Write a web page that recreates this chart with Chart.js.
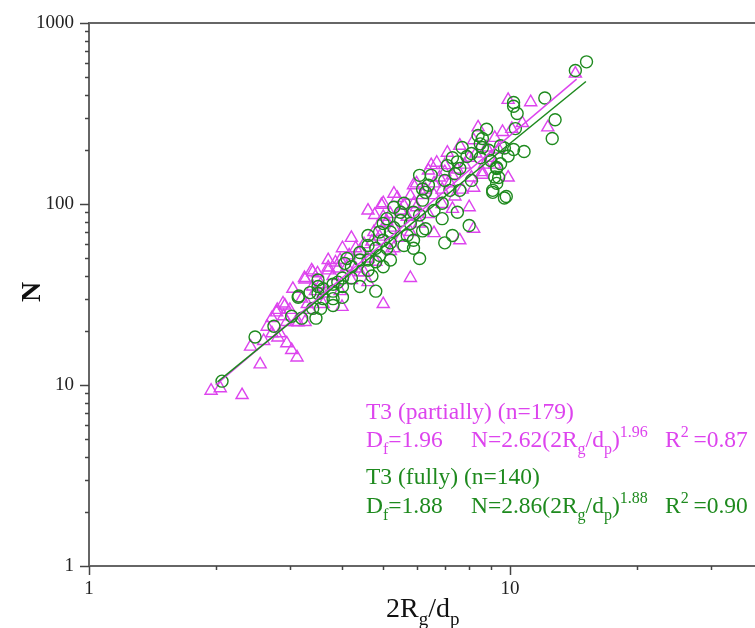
<!DOCTYPE html>
<html>
<head>
<meta charset="utf-8">
<script src="https://cdn.jsdelivr.net/npm/chart.js@4.4.0/dist/chart.umd.min.js"></script>
<style>
  html, body { margin: 0; padding: 0; background: #fff; }
</style>
</head>
<body>
<canvas id="chart" width="755" height="628"></canvas>
<script>
// Daten: T3 teilweise (Dreiecke) und T3 vollständig (Kreise), [2Rg/dp, N]
const partialPoints = [
  [1.95, 9.3], [2.05, 9.6], [2.31, 8.8], [2.55, 13.0], [2.42, 16.3], [2.81, 18.3], [2.95, 17.0],
  [3.03, 15.6], [3.12, 14.2], [2.84, 19.3], [2.72, 19.3], [2.79, 25.2], [2.92, 27.5], [3.14, 22.2],
  [3.26, 38.3], [3.49, 41.4], [2.89, 28.2], [2.80, 26], [2.72, 23.4], [3.10, 22.3], [3.26, 22.3],
  [2.95, 22.3], [3.99, 27], [3.70, 44.6], [3.85, 47.5], [3.25, 39], [3.40, 42], [3.70, 43],
  [3.70, 49], [3.95, 49], [4.00, 57], [4.30, 57], [4.20, 65], [4.60, 92], [5.00, 101], [5.40, 108],
  [6.00, 130], [4.50, 42], [4.60, 50], [4.30, 44], [4.60, 37], [3.95, 33], [3.60, 32], [5.80, 39],
  [5.00, 28], [8.40, 265], [9.20, 232], [6.50, 164], [7.00, 164], [7.30, 144], [8.20, 123],
  [8.60, 150], [9.90, 140], [8.00, 96], [8.20, 73], [5.30, 114], [5.80, 111], [5.90, 127],
  [6.60, 69], [7.30, 94], [5.30, 57], [9.90, 376], [11.2, 365], [14.3, 525], [12.3, 265],
  [10.7, 280], [8.60, 145], [3.38, 43], [4.77, 87], [4.95, 99], [6.40, 153], [6.70, 169],
  [7.10, 192], [7.60, 210], [8.20, 225], [7.60, 63],
  [3.30, 28], [3.45, 33], [3.55, 36], [3.80, 40], [3.90, 44], [4.10, 45], [4.15, 52], [4.40, 55],
  [4.50, 60], [4.70, 62], [4.75, 70], [4.90, 78], [5.10, 80], [5.20, 88], [5.50, 92], [5.60, 98],
  [5.70, 85], [6.00, 96], [6.20, 112], [6.30, 120], [6.60, 130], [6.80, 140], [6.90, 120],
  [7.20, 130], [7.50, 155], [7.80, 165], [8.00, 180], [8.30, 190], [8.80, 205], [9.00, 180],
  [9.40, 200], [9.60, 250], [10.1, 260], [3.00, 26], [3.20, 30], [3.35, 26], [3.60, 28],
  [4.20, 38], [4.40, 42], [4.80, 48], [5.20, 55], [5.50, 65], [5.80, 70], [6.10, 78], [6.40, 88],
  [6.90, 100], [7.40, 110], [7.70, 120], [8.10, 140], [8.70, 165], [9.20, 165], [3.05, 34],
  [2.65, 21], [2.60, 17.5], [2.90, 24], [3.40, 35], [4.90, 66], [5.30, 74], [5.00, 85],
  [5.90, 100], [6.60, 112], [7.00, 150]
];

const fullyPoints = [
  [15.2, 610], [14.3, 546], [12.1, 385], [12.8, 292], [12.6, 230], [10.2, 364], [10.2, 347],
  [10.4, 316], [10.3, 261], [10.8, 195], [10.2, 200], [8.8, 259], [9.3, 159], [9.4, 140],
  [9.3, 130], [9.1, 116], [9.8, 110], [9.5, 210], [9.9, 184], [8.6, 230], [8.6, 205],
  [8.4, 239], [8.5, 215], [8.9, 198], [7.7, 205], [8.1, 190], [7.9, 183], [7.3, 180], [7.5, 171],
  [7.1, 163], [7.6, 157], [8.5, 180], [9.0, 174], [9.5, 167], [9.7, 204], [9.3, 157], [9.2, 141],
  [9.1, 119], [9.7, 108], [6.1, 144], [6.5, 144], [6.4, 127], [6.2, 121], [7.0, 135], [7.4, 147],
  [7.2, 119], [7.6, 119], [8.1, 135], [5.6, 101], [5.5, 90], [5.3, 96], [6.2, 105], [6.3, 116],
  [6.9, 101], [6.6, 92], [6.9, 83], [6.1, 87], [6.3, 73], [6.2, 71], [5.8, 78], [5.7, 67],
  [5.9, 57], [5.6, 59], [7.0, 61], [7.3, 67], [7.5, 90], [8.0, 76], [6.1, 50], [5.9, 90],
  [5.9, 63], [5.1, 83], [5.0, 78], [4.9, 70], [5.2, 70], [5.3, 74], [5.0, 63], [5.2, 61],
  [5.5, 81], [4.6, 67], [4.6, 59], [4.8, 57], [5.1, 57], [4.9, 52], [5.2, 49], [5.0, 45],
  [4.4, 54], [4.4, 49], [4.6, 49], [4.8, 48], [4.1, 50], [4.2, 45], [4.6, 43], [4.7, 40],
  [4.2, 39], [3.9, 37], [3.8, 36], [4.0, 35], [4.4, 35], [3.5, 38], [3.5, 35], [3.5, 32],
  [3.8, 33], [3.8, 30], [4.8, 33], [3.15, 31], [2.07, 10.5], [2.48, 18.4], [2.75, 21.1],
  [3.03, 24], [3.14, 30.5], [3.2, 23.4], [3.35, 32.4], [3.4, 26.5], [3.46, 23.4], [3.55, 26.5],
  [3.6, 30], [3.6, 34], [3.8, 27.5], [4.0, 30.5], [4.05, 47], [4.0, 39]
];

// Fit-Linien (Endpunkte)
const partialFit = [[2.0, 10.0], [14.4, 490]];
const fullyFit = [[2.02, 10.4], [15.15, 475]];

const xTickLabels = ['1', '10'];
const yTickLabels = ['1', '10', '100', '1000'];

const MAGENTA = '#dd44ee';
const GREEN = '#1e8a1e';
const AXIS = '#666';
const SERIF = '"Liberation Serif", "Times New Roman", serif';

const toXY = arr => arr.map(p => ({ x: p[0], y: p[1] }));

// Text mit Hoch-/Tiefstellung zeichnen
function drawRich(ctx, x, y, parts, size, color) {
  ctx.fillStyle = color;
  ctx.textBaseline = 'alphabetic';
  ctx.textAlign = 'left';
  for (const [t, k] of parts) {
    const fs = k === 'n' ? size : Math.round(size * 0.68);
    ctx.font = fs + 'px ' + SERIF;
    const dy = k === 'sub' ? size * 0.3 : (k === 'sup' ? -size * 0.42 : 0);
    ctx.fillText(t, x, y + dy);
    x += ctx.measureText(t).width;
  }
  return x;
}

function isNice(v) {
  const m = v / Math.pow(10, Math.floor(Math.log10(v) + 1e-9));
  return Math.abs(m - Math.round(m)) < 1e-6;
}

const decorPlugin = {
  id: 'decor',
  afterDraw(chart) {
    const ctx = chart.ctx;
    const a = chart.chartArea;
    const xs = chart.scales.x, ys = chart.scales.y;
    ctx.save();
    ctx.strokeStyle = AXIS;
    ctx.lineWidth = 2;
    // obere Rahmenlinie
    ctx.beginPath();
    ctx.moveTo(a.left - 1, a.top);
    ctx.lineTo(a.right, a.top);
    ctx.stroke();
    // Tickmarken
    ctx.lineWidth = 1.5;
    ctx.strokeStyle = '#444';
    xs.ticks.forEach(t => {
      if (!isNice(t.value)) return;
      const px = Math.round(xs.getPixelForValue(t.value)) + 0.5;
      const major = Number.isInteger(Math.log10(t.value));
      ctx.beginPath();
      ctx.moveTo(px, a.bottom);
      ctx.lineTo(px, a.bottom + (major ? 9 : 4));
      ctx.stroke();
    });
    ys.ticks.forEach(t => {
      if (!isNice(t.value)) return;
      const py = Math.round(ys.getPixelForValue(t.value)) + 0.5;
      const major = Math.abs(Math.log10(t.value) - Math.round(Math.log10(t.value))) < 1e-9;
      ctx.beginPath();
      ctx.moveTo(a.left, py);
      ctx.lineTo(a.left - (major ? 9 : 4), py);
      ctx.stroke();
    });
    // Achsentitel
    ctx.fillStyle = '#111';
    ctx.font = 'bold 28px ' + SERIF;
    ctx.save();
    ctx.translate(40, 292);
    ctx.rotate(-Math.PI / 2);
    ctx.textAlign = 'center';
    ctx.textBaseline = 'alphabetic';
    ctx.fillText('N', 0, 0);
    ctx.restore();
    drawRich(ctx, 386, 617, [['2R', 'n'], ['g', 'sub'], ['/d', 'n'], ['p', 'sub']], 28, '#111');
    // Beschriftung der Fits
    const fs = 23.5;
    drawRich(ctx, 366, 419, [['T3 (partially) (n=179)', 'n']], fs, MAGENTA);
    drawRich(ctx, 366, 447, [['D', 'n'], ['f', 'sub'], ['=1.96', 'n']], fs, MAGENTA);
    drawRich(ctx, 471, 447, [['N=2.62(2R', 'n'], ['g', 'sub'], ['/d', 'n'], ['p', 'sub'], [')', 'n'], ['1.96', 'sup']], fs, MAGENTA);
    drawRich(ctx, 665, 447, [['R', 'n'], ['2', 'sup'], ['\u2009=0.87', 'n']], fs, MAGENTA);
    drawRich(ctx, 366, 484, [['T3 (fully) (n=140)', 'n']], fs, GREEN);
    drawRich(ctx, 366, 513, [['D', 'n'], ['f', 'sub'], ['=1.88', 'n']], fs, GREEN);
    drawRich(ctx, 471, 513, [['N=2.86(2R', 'n'], ['g', 'sub'], ['/d', 'n'], ['p', 'sub'], [')', 'n'], ['1.88', 'sup']], fs, GREEN);
    drawRich(ctx, 665, 513, [['R', 'n'], ['2', 'sup'], ['\u2009=0.90', 'n']], fs, GREEN);
    ctx.restore();
  }
};

new Chart(document.getElementById('chart'), {
  type: 'scatter',
  data: {
    datasets: [
      {
        type: 'line', label: 'fit fully', data: toXY(fullyFit),
        borderColor: GREEN, borderWidth: 1.5, pointRadius: 0, fill: false
      },
      {
        type: 'line', label: 'fit partially', data: toXY(partialFit),
        borderColor: MAGENTA, borderWidth: 1.5, pointRadius: 0, fill: false
      },
      {
        label: 'T3 (fully)', data: toXY(fullyPoints),
        pointStyle: 'circle', pointRadius: 6, borderColor: GREEN,
        backgroundColor: 'rgba(0,0,0,0)', pointBorderWidth: 1.4
      },
      {
        label: 'T3 (partially)', data: toXY(partialPoints),
        pointStyle: 'triangle', pointRadius: 7, borderColor: MAGENTA,
        backgroundColor: 'rgba(0,0,0,0)', pointBorderWidth: 1.4
      }
    ]
  },
  options: {
    responsive: false,
    animation: false,
    layout: { autoPadding: false, padding: { top: 23, left: 0, right: 0, bottom: 0 } },
    plugins: { legend: { display: false }, tooltip: { enabled: false } },
    scales: {
      x: {
        type: 'logarithmic', min: 1, max: 38.2,
        afterFit: s => { s.height = 62; s.paddingLeft = 0; s.paddingRight = 0; },
        border: { color: AXIS, width: 2 },
        grid: { drawOnChartArea: false, drawTicks: false },
        ticks: {
          autoSkip: false, maxRotation: 0, padding: 12, color: '#222',
          font: { family: SERIF, size: 19 },
          callback: v => xTickLabels.includes(String(v)) ? String(v) : ''
        }
      },
      y: {
        type: 'logarithmic', min: 1, max: 1000,
        afterFit: s => { s.width = 89; s.paddingTop = 0; s.paddingBottom = 0; },
        border: { color: AXIS, width: 2 },
        grid: { drawOnChartArea: false, drawTicks: false },
        ticks: {
          autoSkip: false, padding: 15, color: '#222',
          font: { family: SERIF, size: 19 },
          callback: v => yTickLabels.includes(String(v)) ? String(v) : ''
        }
      }
    }
  },
  plugins: [decorPlugin]
});
</script>
</body>
</html>
